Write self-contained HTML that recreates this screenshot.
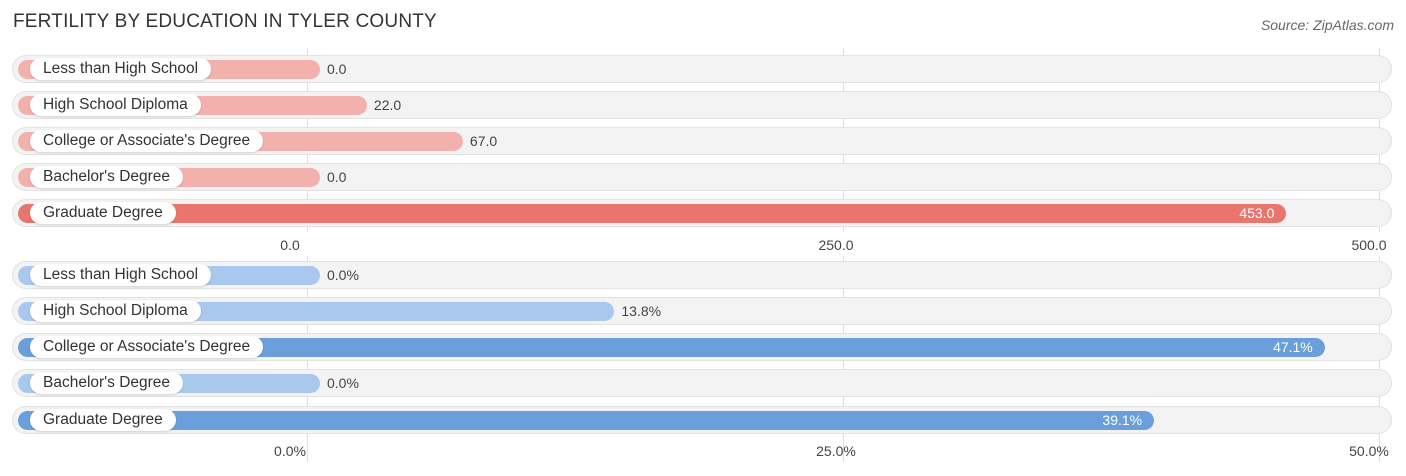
<!DOCTYPE html>
<html><head><meta charset="utf-8"><style>
body{margin:0;width:1406px;height:476px;background:#fff;font-family:"Liberation Sans",sans-serif;position:relative;overflow:hidden}
.title{position:absolute;left:13px;top:11px;font-size:19px;color:#333;letter-spacing:0.2px}
.src{position:absolute;right:12px;top:17px;font-size:14px;color:#666;font-style:italic}
.grid{position:absolute;width:1px;background:#ddd}
.row{position:absolute;left:12px;width:1380px;height:28px;border-radius:14px;background:#f3f3f3;box-shadow:inset 0 0 0 1px #e2e2e2}
.bar{position:absolute;left:18px;height:19px;border-radius:10px}
.pill{position:absolute;left:30px;height:22px;border-radius:11px;background:#fff;font-size:15.5px;color:#333;line-height:22px;padding:0 13px;box-shadow:0 1px 2px rgba(0,0,0,0.15)}
.val{position:absolute;font-size:14px;color:#444;line-height:19px}
.vin{color:#fff}
.tick{position:absolute;font-size:14px;color:#444;transform:translateX(-50%)}
</style></head><body>
<div class="title">FERTILITY BY EDUCATION IN TYLER COUNTY</div>
<div class="src">Source: ZipAtlas.com</div>
<div id="c"></div>
<script>
const categories=["Less than High School","High School Diploma","College or Associate's Degree","Bachelor's Degree","Graduate Degree"];
const countValues=[0.0,22.0,67.0,0.0,453.0];
const pctValues=[0.0,13.8,47.1,0.0,39.1];
const countTicks=[0,250,500];
const pctTicks=[0,25,50];
const c=document.getElementById('c');
function mk(cls,name,parent){const e=document.createElement('div');e.className=cls;


(parent||c).appendChild(e);return e;}
function panel(vals,ticks,max,centers,axisY,fmt,light,dark,prefix,gridTop,gridBot){
  const x0=307,x1=1379;
  const ax=v=>x0+(v/max)*(x1-x0);
  ticks.forEach(t=>{const g=mk('grid',prefix+'-gridline');g.style.left=ax(t)+'px';g.style.top=gridTop+'px';g.style.height=(gridBot-gridTop)+'px';});
  const vmax=Math.max(...vals);
  vals.forEach((v,i)=>{
    const cy=centers[i];
    const r=mk('row',prefix+'-row-bg');r.style.top=(cy-14)+'px';
    const b=mk('bar',prefix+'-bar-'+(i+1));const end=320+(v/max)*(x1-x0)*0.995;
    b.style.top=(cy-9.5)+'px';b.style.width=(end-18)+'px';
    const strong=v===vmax||v/max>0.6;
    b.style.background=strong?dark:light;
    const p=mk('pill',prefix+'-category-label');p.textContent=categories[i];p.style.top=(cy-11)+'px';
    const t=mk('val',prefix+'-value-label');t.textContent=fmt(v);t.style.top=(cy-9.5)+'px';
    if(strong){t.classList.add('vin');t.style.left=(end-12)+'px';t.style.transform='translateX(-100%)';}
    else t.style.left=(end+7)+'px';
  });
  ticks.forEach((tk,i)=>{const t=mk('tick',prefix+'-tick-label');t.textContent=fmt(tk);t.style.top=axisY+'px';
    let x=ax(tk);if(i===0)x-=17;else if(i===ticks.length-1)x-=10;else x-=7;t.style.left=x+'px';});
}
panel(countValues,countTicks,500,[69,105,141,177,213],237,v=>v.toFixed(1),'#f2b1ad','#e8766f','count',48,232);
panel(pctValues,pctTicks,50,[275,311,347,383,420],443,v=>v.toFixed(1)+'%','#a9c8ee','#6a9fdc','pct',256,462);
</script>
</body></html>
